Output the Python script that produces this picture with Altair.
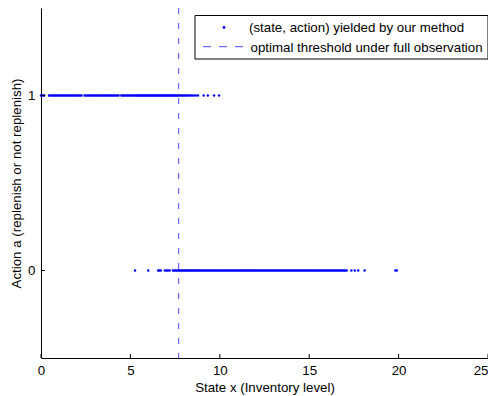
import altair as alt
import pandas as pd

# ---- data ----
state_action1 = [0.0, 0.05, 0.12, 0.18, 0.45, 0.52, 0.6, 0.68, 0.75, 0.83, 0.9, 0.98, 1.05, 1.13, 1.2,
                 1.28, 1.35, 1.43, 1.5, 1.58, 1.66, 1.73, 1.81, 1.88, 1.96, 2.04, 2.11, 2.19, 2.27, 2.44,
                 2.51, 2.59, 2.66, 2.74, 2.81, 2.89, 2.97, 3.04, 3.12, 3.19, 3.27, 3.35, 3.42, 3.5, 3.57,
                 3.65, 3.72, 3.8, 3.88, 3.95, 4.03, 4.1, 4.18, 4.26, 4.34, 4.49, 4.56, 4.64, 4.71, 4.79,
                 4.86, 4.94, 5.01, 5.09, 5.16, 5.24, 5.31, 5.37, 5.43, 5.49, 5.55, 5.61, 5.67, 5.73, 5.79,
                 5.85, 5.91, 5.97, 6.03, 6.09, 6.15, 6.21, 6.27, 6.33, 6.39, 6.45, 6.51, 6.57, 6.63, 6.69,
                 6.75, 6.81, 6.87, 6.93, 6.99, 7.05, 7.11, 7.17, 7.23, 7.29, 7.35, 7.41, 7.47, 7.53, 7.59,
                 7.65, 7.72, 7.8, 7.88, 7.95, 8.03, 8.11, 8.19, 8.27, 8.36, 8.45, 8.55, 8.66, 8.78, 9.1,
                 9.33, 9.68, 9.96]

state_action0 = [5.26, 6.0, 6.55, 6.62, 6.7, 6.93, 7.02, 7.1, 7.2, 7.38, 7.45, 7.52, 7.58,
                 7.66, 7.72, 7.78, 7.85, 7.91, 7.98, 8.04, 8.11, 8.17, 8.24, 8.3, 8.37, 8.43, 8.5, 8.56,
                 8.63, 8.7, 8.77, 8.84, 8.91, 8.98, 9.05, 9.12, 9.19, 9.26, 9.33, 9.4, 9.47, 9.54, 9.61,
                 9.68, 9.75, 9.82, 9.89, 9.96, 10.03, 10.1, 10.17, 10.24, 10.31, 10.38, 10.45, 10.52,
                 10.59, 10.66, 10.73, 10.8, 10.87, 10.94, 11.01, 11.08, 11.15, 11.22, 11.29, 11.36,
                 11.43, 11.5, 11.57, 11.64, 11.71, 11.78, 11.85, 11.92, 11.99, 12.06, 12.13, 12.2,
                 12.27, 12.34, 12.41, 12.48, 12.55, 12.62, 12.69, 12.76, 12.83, 12.9, 12.97, 13.04,
                 13.11, 13.18, 13.25, 13.32, 13.39, 13.46, 13.53, 13.6, 13.67, 13.74, 13.81, 13.88,
                 13.95, 14.02, 14.09, 14.16, 14.23, 14.3, 14.37, 14.44, 14.51, 14.58, 14.65, 14.72,
                 14.79, 14.86, 14.93, 15.0, 15.07, 15.14, 15.21, 15.28, 15.35, 15.42, 15.49, 15.56,
                 15.63, 15.7, 15.77, 15.84, 15.91, 15.98, 16.05, 16.12, 16.19, 16.26, 16.33, 16.4,
                 16.47, 16.54, 16.61, 16.68, 16.75, 16.82, 16.89, 16.96, 17.02, 17.1, 17.36, 17.55,
                 17.74, 18.1, 19.82, 19.9]

threshold = [7.7]
x_ticks = [0, 5, 10, 15, 20, 25]
y_ticks = [0, 1]
legend_labels = ["(state, action) yielded by our method", "optimal threshold under full observation"]

FONT = "Liberation Sans"
FS = 13.3
BLUE = "#0000ff"
DASH_BLUE = "#4646ff"

pts = pd.DataFrame({
    "x": state_action1 + state_action0,
    "a": [1] * len(state_action1) + [0] * len(state_action0),
})
thr = pd.DataFrame({"x": threshold})
xt = pd.DataFrame({"x": x_ticks})
yt = pd.DataFrame({"y": y_ticks})

xscale = alt.Scale(domain=[0, 25], nice=False, zero=False)
yscale = alt.Scale(domain=[-0.5, 1.5], nice=False, zero=False)

x_axis = alt.Axis(values=x_ticks, format="d", ticks=False, grid=False, domainColor="black",
                  labelColor="black", labelFontSize=FS, labelPadding=5, titleFontSize=FS,
                  titleFontWeight="normal", titleColor="black", titlePadding=4, labelFlush=False,
                  labelAlign=alt.expr("datum.value == 25 ? 'right' : 'center'"))
y_axis = alt.Axis(values=y_ticks, format="d", ticks=False, grid=False, domainColor="black",
                  labelColor="black", labelFontSize=FS, labelPadding=6, titleFontSize=FS,
                  titleFontWeight="normal", titleColor="black", titlePadding=4)

points = alt.Chart(pts).mark_circle(size=6, color=BLUE, opacity=1).encode(
    x=alt.X("x:Q", scale=xscale, axis=x_axis, title="State x (Inventory level)"),
    y=alt.Y("a:Q", scale=yscale, axis=y_axis, title="Action a (replenish or not replenish)"),
)

thr_line = alt.Chart(thr).mark_rule(color=DASH_BLUE, strokeWidth=1, strokeDash=[6, 9]).encode(
    x=alt.X("x:Q", scale=xscale)
)

xtick_marks = alt.Chart(xt).mark_rule(color="black", strokeWidth=1).encode(
    x=alt.X("x:Q", scale=xscale), y=alt.value(350), y2=alt.value(346)
)
ytick_marks = alt.Chart(yt).mark_rule(color="black", strokeWidth=1).encode(
    y=alt.Y("y:Q", scale=yscale), x=alt.value(0), x2=alt.value(4)
)

# legend box
leg_box = alt.Chart(pd.DataFrame({"k": [0]})).mark_rect(fill="white", stroke="black", strokeWidth=1).encode(
    x=alt.value(154), x2=alt.value(447), y=alt.value(7.5), y2=alt.value(51)
)
leg_dot = alt.Chart(pd.DataFrame({"k": [0]})).mark_circle(size=8, color=BLUE, opacity=1).encode(
    x=alt.value(183), y=alt.value(19.5)
)
leg_line = alt.Chart(pd.DataFrame({"k": [0]})).mark_rule(color=DASH_BLUE, strokeWidth=1, strokeDash=[8, 8]).encode(
    x=alt.value(162), x2=alt.value(205), y=alt.value(38.7)
)
leg_text1 = alt.Chart(pd.DataFrame({"t": [legend_labels[0]]})).mark_text(
    align="left", baseline="middle", fontSize=FS, font=FONT, color="black").encode(
    text="t:N", x=alt.value(208), y=alt.value(20)
)
leg_text2 = alt.Chart(pd.DataFrame({"t": [legend_labels[1]]})).mark_text(
    align="left", baseline="middle", fontSize=FS, font=FONT, color="black").encode(
    text="t:N", x=alt.value(209.5), y=alt.value(40)
)

chart = alt.layer(
    thr_line, points, xtick_marks, ytick_marks, leg_box, leg_dot, leg_line, leg_text1, leg_text2
).properties(
    width=447, height=350,
    autosize=alt.AutoSizeParams(type="none"),
    padding={"left": 33, "top": 0, "right": 0, "bottom": 37},
).configure(font=FONT).configure_view(stroke=None)

chart.save("out.html", embed_options={"renderer": "svg", "actions": False})
